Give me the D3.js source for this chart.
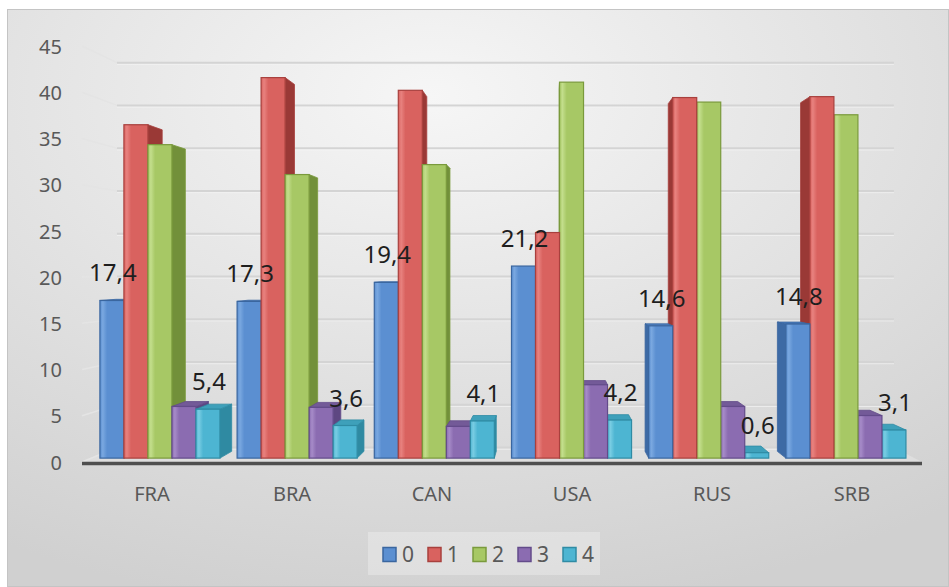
<!DOCTYPE html>
<html>
<head>
<meta charset="utf-8">
<script src="https://cdn.jsdelivr.net/npm/d3@7"></script>
<style>
  body { margin: 0; background: #ffffff; }
  svg { display: block; }
</style>
</head>
<body>
<svg id="chart" width="949" height="587"></svg>
<script>
// ---- data ----
const categories = ["FRA", "BRA", "CAN", "USA", "RUS", "SRB"];
const seriesNames = ["0", "1", "2", "3", "4"];
const series0 = [17.4, 17.3, 19.4, 21.2, 14.6, 14.8];
const series1 = [36.8, 42.0, 40.6, 24.9, 39.8, 39.9];
const series2 = [34.6, 31.3, 32.4, 41.5, 39.3, 37.9];
const series3 = [5.7, 5.6, 3.5, 8.1, 5.7, 4.7];
const series4 = [5.4, 3.6, 4.1, 4.2, 0.6, 3.1];
const yTickValues = [0, 5, 10, 15, 20, 25, 30, 35, 40, 45];
const labelledSeries = ["0", "4"];

const seriesValues = [series0, series1, series2, series3, series4];

// colour sets per series: front, light stripe, side, top, edge
const palette = {
  "0": { front: "#5b8fd1", light: "#7aa8e0", side: "#3d6aa5", top: "#4a7bbb", edge: "#3a669f" },
  "1": { front: "#d9625f", light: "#e8827f", side: "#9a3936", top: "#b94b48", edge: "#a8403d" },
  "2": { front: "#a7c865", light: "#c3de8c", side: "#72903a", top: "#8dab4e", edge: "#7a9a3c" },
  "3": { front: "#8b6cb1", light: "#a68bc8", side: "#5e4782", top: "#735a98", edge: "#634b8a" },
  "4": { front: "#4db5d2", light: "#79cde3", side: "#2f8aa2", top: "#3ea0ba", edge: "#2f8ba4" }
};

// ---- layout ----
const W = 949, H = 587;
const svg = d3.select("#chart");

// front plane scales
const x0 = d3.scaleBand().domain(categories).range([82, 922]).paddingInner(0.125).paddingOuter(0.0625);
const x1 = d3.scaleBand().domain(seriesNames).range([0, x0.bandwidth()]);
const y = d3.scaleLinear().domain([0, 45]).range([462, 46]);

// perspective: points recede toward a vanishing point with depth fraction f
const VX = 548, VY = 268;
const project = (X, Y, f) => [X + f * (VX - X), Y + f * (VY - Y)];
const fWall = 0.075, fFront = 0.02, fBack = 0.055;

const defs = svg.append("defs");

const bg = defs.append("radialGradient").attr("id", "bgGrad")
  .attr("cx", 0.45).attr("cy", 0.15).attr("r", 0.9);
bg.append("stop").attr("offset", 0).attr("stop-color", "#f6f6f6");
bg.append("stop").attr("offset", 1).attr("stop-color", "#d0d0d0");

seriesNames.forEach(s => {
  const c = palette[s];
  const g = defs.append("linearGradient").attr("id", "face" + s)
    .attr("x1", 0).attr("y1", 0).attr("x2", 1).attr("y2", 0);
  g.append("stop").attr("offset", 0).attr("stop-color", c.front);
  g.append("stop").attr("offset", 0.12).attr("stop-color", c.light);
  g.append("stop").attr("offset", 0.3).attr("stop-color", c.front);
  g.append("stop").attr("offset", 1).attr("stop-color", c.front);
});

// chart background
svg.append("rect")
  .attr("x", 7.5).attr("y", 9.5).attr("width", W - 8).attr("height", H - 10)
  .attr("fill", "url(#bgGrad)").attr("stroke", "#c4c4c4").attr("stroke-width", 1);

const line = d3.line();

// floor
const floorPts = [
  project(82, y(0), 0), project(922, y(0), 0),
  project(922, y(0), fWall), project(82, y(0), fWall)
];
svg.append("path").attr("d", line(floorPts) + "Z").attr("fill", "#dedede");

// gridlines on the back wall and the left side wall
const grid = svg.append("g").attr("fill", "none");
yTickValues.forEach(v => {
  const a = project(82, y(v), 0);
  const b = project(82, y(v), fWall);
  const c = project(922, y(v), fWall);
  grid.append("path").attr("d", line([a, b])).attr("stroke", "#e4e4e4").attr("stroke-width", 1.5);
  grid.append("path").attr("d", line([b, c])).attr("stroke", "#d4d4d4").attr("stroke-width", 2);
  grid.append("path").attr("d", line([[b[0], b[1] + 1.8], [c[0], c[1] + 1.8]]))
    .attr("stroke", "#f4f4f4").attr("stroke-width", 1).attr("opacity", 0.7);
});

// floor front edge
svg.append("path")
  .attr("d", line([[82, y(0) + 1.5], [922, y(0) + 1.5]]))
  .attr("stroke", "#4f4f4f").attr("stroke-width", 3.5).attr("fill", "none");

// ---- bars ----
const bars = [];
categories.forEach((cat, ci) => {
  seriesNames.forEach((s, si) => {
    const v = seriesValues[si][ci];
    const X0 = x0(cat) + x1(s);
    const X1 = X0 + x1.bandwidth();
    bars.push({ cat, s, v, X0, X1, cx: (X0 + X1) / 2 });
  });
});
// paint the bars farthest from the vanishing line first
bars.sort((a, b) => Math.abs(b.cx - VX) - Math.abs(a.cx - VX));

const barLayer = svg.append("g");
bars.forEach(d => {
  const c = palette[d.s];
  const yt = y(d.v), yb = y(0);
  const FTL = project(d.X0, yt, fFront), FTR = project(d.X1, yt, fFront);
  const FBL = project(d.X0, yb, fFront), FBR = project(d.X1, yb, fFront);
  const BTL = project(d.X0, yt, fBack), BTR = project(d.X1, yt, fBack);
  const BBL = project(d.X0, yb, fBack), BBR = project(d.X1, yb, fBack);
  const g = barLayer.append("g");
  // side face
  const side = d.cx < VX ? [FTR, BTR, BBR, FBR] : [FTL, BTL, BBL, FBL];
  g.append("path").attr("d", line(side) + "Z")
    .attr("fill", c.side).attr("stroke", c.edge).attr("stroke-width", 0.8);
  // top face, seen only when it lies below eye level
  if (FTL[1] > VY) {
    g.append("path").attr("d", line([FTL, FTR, BTR, BTL]) + "Z")
      .attr("fill", c.top).attr("stroke", c.edge).attr("stroke-width", 0.8);
  }
  // front face
  g.append("rect")
    .attr("x", FTL[0]).attr("y", FTL[1])
    .attr("width", FTR[0] - FTL[0]).attr("height", FBL[1] - FTL[1])
    .attr("fill", "url(#face" + d.s + ")")
    .attr("stroke", c.edge).attr("stroke-width", 1.2);
});

// ---- data labels ----
const labelLayer = svg.append("g")
  .attr("font-family", "'Noto Sans', sans-serif").attr("font-size", 24)
  .attr("fill", "#1e1e1e").attr("text-anchor", "middle");
labelledSeries.forEach(s => {
  const si = seriesNames.indexOf(s);
  categories.forEach((cat, ci) => {
    const v = seriesValues[si][ci];
    const X0 = x0(cat) + x1(s);
    const p = project(X0 + x1.bandwidth() / 2, y(v), fFront);
    labelLayer.append("text")
      .attr("x", p[0] + 1).attr("y", p[1] - 19)
      .text(String(v.toFixed(1)).replace(".", ","));
  });
});

// ---- axes ----
const yAxis = d3.axisLeft(y).tickValues(yTickValues).tickSize(0).tickPadding(0);
const yG = svg.append("g").attr("transform", "translate(62,0)").call(yAxis);
yG.select(".domain").remove();
yG.selectAll("text")
  .attr("font-family", "'Noto Sans', sans-serif").attr("font-size", 20)
  .attr("fill", "#595959").attr("dy", "0.36em");

const xAxis = d3.axisBottom(x0).tickSize(0).tickPadding(0);
const xG = svg.append("g").attr("transform", "translate(0,487)").call(xAxis);
xG.select(".domain").remove();
xG.selectAll("text")
  .attr("font-family", "'Noto Sans', sans-serif").attr("font-size", 20)
  .attr("fill", "#595959").attr("dy", "0.72em");

// ---- legend ----
const legend = svg.append("g");
legend.append("rect")
  .attr("x", 368).attr("y", 532).attr("width", 232).attr("height", 43)
  .attr("fill", "#ffffff").attr("opacity", 0.28);
const legendX = d3.scalePoint().domain(seriesNames).range([383, 563]);
seriesNames.forEach(s => {
  const c = palette[s];
  legend.append("rect")
    .attr("x", legendX(s)).attr("y", 547.5).attr("width", 13).attr("height", 14)
    .attr("fill", c.front).attr("stroke", c.edge).attr("stroke-width", 1.5);
  legend.append("text")
    .attr("x", legendX(s) + 19).attr("y", 562)
    .attr("font-family", "'Noto Sans', sans-serif").attr("font-size", 21)
    .attr("fill", "#595959").text(s);
});
</script>
</body>
</html>
